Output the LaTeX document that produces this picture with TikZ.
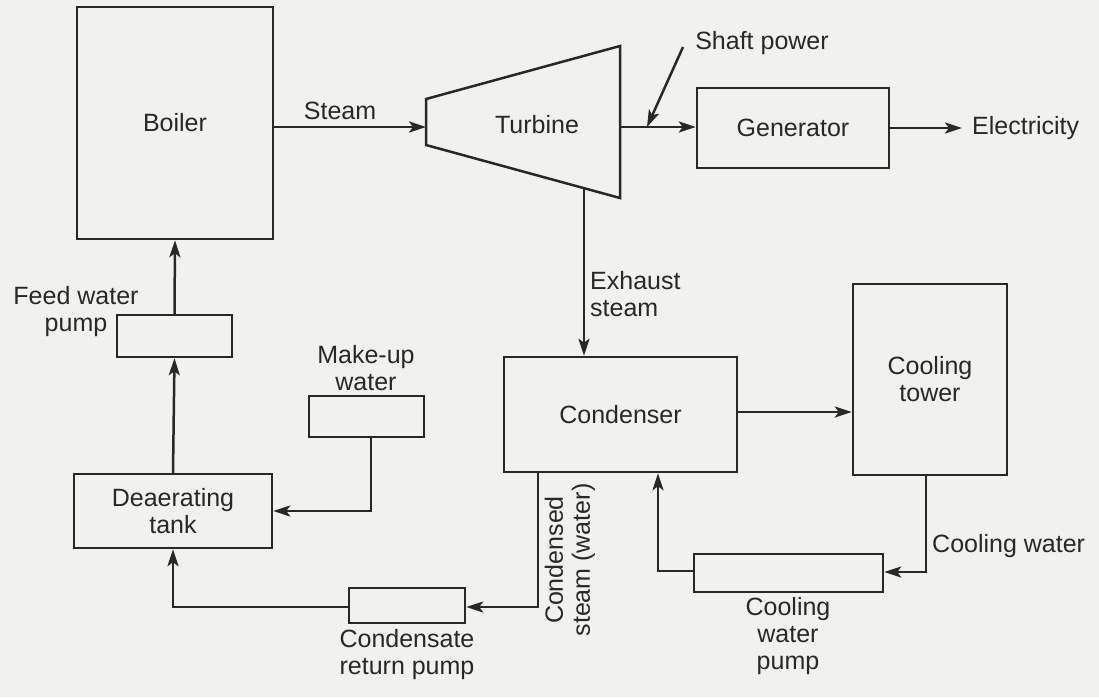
\documentclass[tikz,border=0pt]{standalone}
\usepackage{fontspec}
\setmainfont{Liberation Sans}
\usetikzlibrary{arrows.meta}
\definecolor{ink}{RGB}{40,40,40}
\definecolor{paper}{RGB}{241,241,238}
\begin{document}
\begin{tikzpicture}[x=1pt,y=-1pt,
  every node/.style={text=ink, font=\fontsize{25}{27}\selectfont, inner sep=0pt, align=center},
  box/.style={draw=ink, line width=2.5pt, minimum width=#1},
  arr/.style={draw=ink, line width=2.5pt, -{Stealth[length=17pt,width=11pt,inset=4pt]}},
  ln/.style={draw=ink, line width=2.5pt}]
\fill[paper] (0,0) rectangle (1099,697);
\useasboundingbox (0,0) rectangle (1099,697);

% boxes
\node[box=196pt, minimum height=232pt] (boiler) at (175,123) {Boiler};
\node[box=192pt, minimum height=80pt] (gen) at (793,128) {Generator};
\node[box=115pt, minimum height=42pt] (feed) at (174.5,336) {};
\node[box=115pt, minimum height=41pt] (makeup) at (366.5,416.5) {};
\node[box=198pt, minimum height=74pt] (deaer) at (173,511) {Deaerating\\tank};
\node[box=233pt, minimum height=115pt] (cond) at (620.5,414.5) {Condenser};
\node[box=154pt, minimum height=191pt] (tower) at (930,379.5) {Cooling\\tower};
\node[box=189pt, minimum height=38pt] (cwpump) at (788.5,573) {};
\node[box=116pt, minimum height=35pt] (cpump) at (407,605.5) {};

% turbine
\coordinate (t1) at (426,99);
\coordinate (t2) at (620,46);
\coordinate (t3) at (620,198);
\coordinate (t4) at (426,145);
\draw[ln, line join=miter] (t1) -- (t2) -- (t3) -- (t4) -- cycle;
\node (turb) at (537,125) {Turbine};

% labels
\node (steamlbl) at (340,111) {Steam};
\node (shaftlbl) at (762,43) {Shaft power};
\node[anchor=west] (eleclbl) at (972,128) {Electricity};
\node[anchor=west, align=left] (exlbl) at (590,294) {Exhaust\\steam};
\node (feedlbl) at (76,312) {Feed water\\pump};
\node (makelbl) at (366,368) {Make-up\\water};
\node[rotate=90] (condlbl) at (570,560) {Condensed\\steam (water)};
\node (cpumplbl) at (407,655) {Condensate\\return pump};
\node (cwpumplbl) at (788,636) {Cooling\\water\\pump};
\node[anchor=west] (cwlbl) at (932,546) {Cooling water};

% connectors
\coordinate (tin) at (426,127);
\coordinate (tout) at (620,127);
\coordinate (ex) at (584,188);
\coordinate (spa) at (683,47);
\coordinate (spb) at (647,127);
\coordinate (elec) at (962,128);
\draw[arr] (boiler.east |- tin) -- (tin);
\draw[arr] (tout) -- (gen.west |- tout);
\draw[arr] (spa) -- (spb);
\draw[arr] (gen.east) -- (elec);
\draw[arr] (ex) -- (ex |- cond.north);
\coordinate (ct) at (737,412);
\draw[arr] (ct) -- (tower.west |- ct);
\coordinate (cw1) at (926,572);
\draw[arr] (tower.south -| cw1) -- (cw1) -- (cwpump.east |- cw1);
\coordinate (cr1) at (658,571);
\draw[arr] (cwpump.west |- cr1) -- (cr1) -- (cr1 |- cond.south);
\coordinate (cd1) at (538,607);
\draw[arr] (cd1 |- cond.south) -- (cd1) -- (cpump.east |- cd1);
\coordinate (rp1) at (173,607);
\draw[arr] (cpump.west |- rp1) -- (rp1) -- (deaer.south);
\coordinate (mu1) at (371,511);
\draw[arr] (makeup.south -| mu1) -- (mu1) -- (deaer.east |- mu1);
\draw[arr] (deaer.north) -- (feed.south);
\draw[arr] (feed.north) -- (boiler.south);
\end{tikzpicture}
\end{document}
